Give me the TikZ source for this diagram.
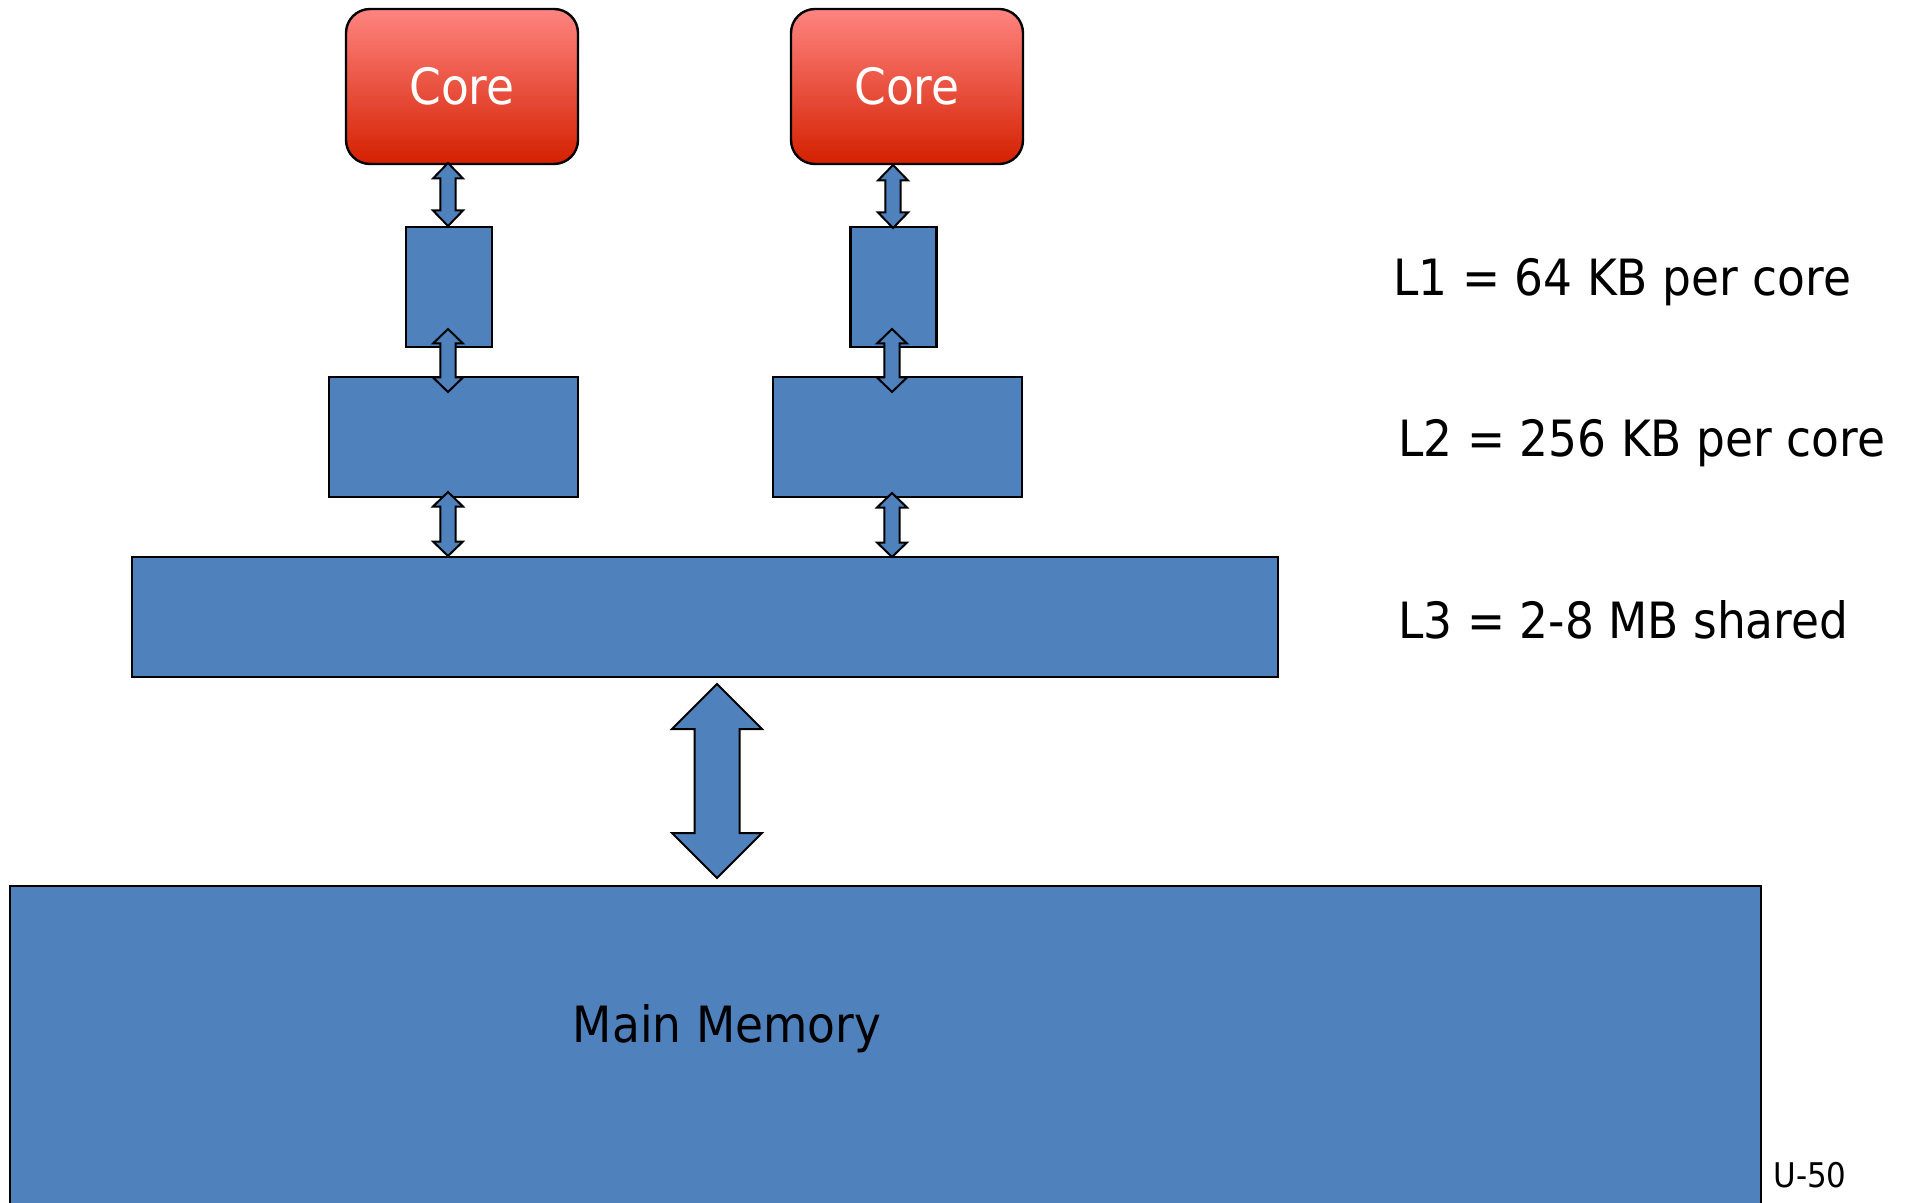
\documentclass[tikz,border=0pt]{standalone}
\usepackage{fontspec}
\setmainfont[FakeStretch=0.91]{DejaVu Sans}
\definecolor{boxblue}{HTML}{4F81BD}
\definecolor{corelight}{HTML}{FF8480}
\definecolor{coremid}{HTML}{EF5C52}
\definecolor{coredark}{HTML}{D42000}
\tikzset{
  cachebox/.style={draw=black, fill=boxblue, line width=1.2pt, inner sep=0pt},
  corebox/.style={draw=black, line width=1.2pt, rounded corners=12pt, inner sep=0pt,
    top color=corelight, middle color=coremid, bottom color=coredark,
    minimum width=116pt, minimum height=77.5pt, text=white, font=\fontsize{25}{30}\selectfont},
  arrowst/.style={draw=black, fill=boxblue, line width=1pt, line join=miter},
  lbl/.style={anchor=base west, inner sep=0pt, font=\fontsize{25}{30}\selectfont}
}
\newcommand\dbarrow[6]{%
  \filldraw[arrowst] (#1,#2) -- ({#1+#4},{#2+#6}) -- ({#1+#5},{#2+#6}) -- ({#1+#5},{#3-#6})
    -- ({#1+#4},{#3-#6}) -- (#1,#3) -- ({#1-#4},{#3-#6}) -- ({#1-#5},{#3-#6})
    -- ({#1-#5},{#2+#6}) -- ({#1-#4},{#2+#6}) -- cycle;}
\begin{document}
\begin{tikzpicture}[x=0.5pt, y=-0.5pt]
\useasboundingbox (0,0) rectangle (1906,1203);
\clip (0,0) rectangle (1906,1203);
% cores
\node[corebox] (core1) at (462,86.5) {\raisebox{-1.5pt}{Core}};
\node[corebox] (core2) at (907,86.5) {\raisebox{-1.5pt}{Core}};
% L1
\node[cachebox, minimum width=43pt, minimum height=60pt] (l1a) at (449,287) {};
\node[cachebox, minimum width=43pt, minimum height=60pt] (l1b) at (893.5,287) {};
% L2
\node[cachebox, minimum width=124.5pt, minimum height=60pt] (l2a) at (453.5,437) {};
\node[cachebox, minimum width=124.5pt, minimum height=60pt] (l2b) at (897.5,437) {};
% L3
\node[cachebox, minimum width=573pt, minimum height=60pt] (l3) at (705,617) {};
% main memory
\node[cachebox, minimum width=875.5pt, minimum height=170pt] (mem) at (885.75,1056) {};
\node[inner sep=0pt, anchor=base, font=\fontsize{25}{30}\selectfont] (memtxt) at (727,1042) {Main Memory};
% arrows
\dbarrow{448}{163}{226}{15}{7.7}{15.5}
\dbarrow{448}{329}{392}{15}{7.7}{14.5}
\dbarrow{448}{492}{556}{15}{7.7}{14.5}
\dbarrow{893}{165}{228}{15}{7.7}{15.5}
\dbarrow{892}{329}{392}{15}{7.7}{14.5}
\dbarrow{892}{493}{557}{15}{7.7}{14.5}
\dbarrow{717}{684}{878}{45}{22.5}{45}
% labels
\node[lbl] (t1) at (1393,296) {L1 = 64 KB per core};
\node[lbl] (t2) at (1398,457) {L2 = 256 KB per core};
\node[lbl] (t3) at (1398,638) {L3 = 2-8 MB shared};
\node[anchor=base west, inner sep=0pt, font=\fontsize{17}{20}\selectfont] (u50) at (1773,1187) {U-50};
\end{tikzpicture}
\end{document}
